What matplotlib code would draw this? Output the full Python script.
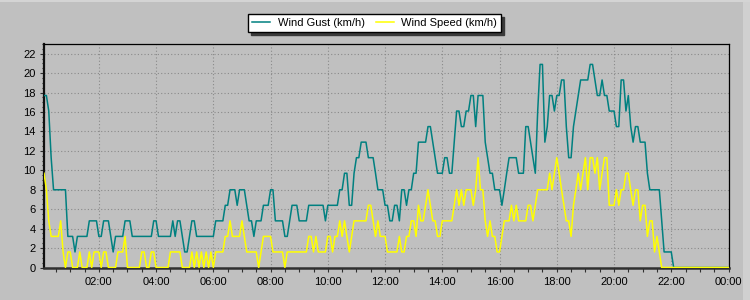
import numpy as np
import pandas as pd
import matplotlib
matplotlib.use("Agg")
import matplotlib.pyplot as plt
import matplotlib.dates as mdates
from matplotlib.patches import Rectangle

plt.rcParams['font.family'] = ['Liberation Sans', 'DejaVu Sans']

# 5-minute samples from 00:05 to 24:00
start_time = "2000-01-01 00:05"
n_samples = 288

# Wind gust (km/h)
wind_gust = [
    17.7, 17.7, 16.1, 11.3, 8.0, 8.0, 8.0, 8.0, 8.0, 8.0,
    3.2, 3.2, 3.2, 1.6, 3.2, 3.2, 3.2, 3.2, 3.2, 4.8,
    4.8, 4.8, 4.8, 3.2, 3.2, 4.8, 4.8, 4.8, 3.2, 1.6,
    3.2, 3.2, 3.2, 3.2, 4.8, 4.8, 4.8, 3.2, 3.2, 3.2,
    3.2, 3.2, 3.2, 3.2, 3.2, 3.2, 4.8, 4.8, 3.2, 3.2,
    3.2, 3.2, 3.2, 3.2, 4.8, 3.2, 4.8, 4.8, 3.2, 1.6,
    1.6, 3.2, 4.8, 4.8, 3.2, 3.2, 3.2, 3.2, 3.2, 3.2,
    3.2, 3.2, 4.8, 4.8, 4.8, 4.8, 6.4, 6.4, 8.0, 8.0,
    8.0, 6.4, 8.0, 8.0, 8.0, 6.4, 4.8, 4.8, 3.2, 4.8,
    4.8, 4.8, 6.4, 6.4, 6.4, 8.0, 8.0, 4.8, 4.8, 4.8,
    4.8, 3.2, 3.2, 4.8, 6.4, 6.4, 6.4, 4.8, 4.8, 4.8,
    4.8, 6.4, 6.4, 6.4, 6.4, 6.4, 6.4, 6.4, 4.8, 6.4,
    6.4, 6.4, 6.4, 6.4, 8.0, 8.0, 9.7, 9.7, 6.4, 6.4,
    9.7, 11.3, 11.3, 12.9, 12.9, 12.9, 11.3, 11.3, 11.3, 9.7,
    8.0, 8.0, 8.0, 6.4, 6.4, 4.8, 4.8, 6.4, 6.4, 4.8,
    8.0, 8.0, 6.4, 8.0, 8.0, 9.7, 9.7, 12.9, 12.9, 12.9,
    12.9, 14.5, 14.5, 12.9, 11.3, 9.7, 9.7, 9.7, 11.3, 11.3,
    9.7, 9.7, 12.9, 16.1, 16.1, 14.5, 14.5, 16.1, 16.1, 17.7,
    17.7, 14.5, 17.7, 17.7, 17.7, 12.9, 11.3, 9.7, 9.7, 8.0,
    8.0, 8.0, 6.4, 8.0, 9.7, 11.3, 11.3, 11.3, 11.3, 9.7,
    9.7, 9.7, 14.5, 14.5, 12.9, 11.3, 9.7, 16.1, 20.9, 20.9,
    12.9, 14.5, 17.7, 17.7, 16.1, 17.7, 17.7, 19.3, 19.3, 14.5,
    11.3, 11.3, 14.5, 16.1, 17.7, 19.3, 19.3, 19.3, 19.3, 20.9,
    20.9, 19.3, 17.7, 17.7, 19.3, 17.7, 17.7, 16.1, 16.1, 16.1,
    14.5, 14.5, 19.3, 19.3, 16.1, 17.7, 14.5, 12.9, 14.5, 14.5,
    12.9, 12.9, 12.9, 9.7, 8.0, 8.0, 8.0, 8.0, 8.0, 4.8,
    1.6, 1.6, 1.6, 1.6, 0, 0, 0, 0, 0, 0,
    0, 0, 0, 0, 0, 0, 0, 0, 0, 0,
    0, 0, 0, 0, 0, 0, 0, 0,
]

# Wind speed (km/h)
wind_speed = [
    9.7, 8.0, 4.8, 3.2, 3.2, 3.2, 3.2, 4.8, 1.6, 0,
    1.6, 1.6, 0, 0, 0, 1.6, 0, 0, 0, 1.6,
    0, 1.6, 1.6, 1.6, 0, 1.6, 1.6, 0, 0, 0,
    0, 1.6, 1.6, 1.6, 3.2, 0, 0, 0, 0, 0,
    0, 1.6, 1.6, 0, 0, 1.6, 1.6, 0, 0, 0,
    0, 0, 0, 1.6, 1.6, 1.6, 1.6, 1.6, 0, 0,
    0, 0, 1.6, 0, 1.6, 0, 1.6, 0, 1.6, 0,
    1.6, 0, 1.6, 1.6, 1.6, 1.6, 3.2, 3.2, 4.8, 3.2,
    3.2, 3.2, 3.2, 4.8, 3.2, 1.6, 1.6, 1.6, 1.6, 1.6,
    0, 1.6, 3.2, 3.2, 3.2, 3.2, 1.6, 1.6, 1.6, 1.6,
    1.6, 0, 1.6, 1.6, 1.6, 1.6, 1.6, 1.6, 1.6, 1.6,
    1.6, 3.2, 3.2, 1.6, 3.2, 1.6, 1.6, 1.6, 1.6, 3.2,
    3.2, 1.6, 3.2, 3.2, 4.8, 3.2, 4.8, 3.2, 1.6, 3.2,
    4.8, 4.8, 4.8, 4.8, 4.8, 4.8, 6.4, 6.4, 4.8, 3.2,
    4.8, 3.2, 3.2, 3.2, 1.6, 1.6, 1.6, 1.6, 1.6, 3.2,
    1.6, 1.6, 3.2, 3.2, 4.8, 4.8, 3.2, 6.4, 4.8, 4.8,
    6.4, 8.0, 6.4, 4.8, 4.8, 3.2, 3.2, 4.8, 4.8, 4.8,
    4.8, 4.8, 6.4, 8.0, 6.4, 8.0, 6.4, 8.0, 8.0, 8.0,
    6.4, 8.0, 11.3, 8.0, 8.0, 4.8, 3.2, 4.8, 3.2, 3.2,
    1.6, 1.6, 3.2, 4.8, 4.8, 4.8, 6.4, 4.8, 6.4, 4.8,
    4.8, 4.8, 4.8, 6.4, 6.4, 4.8, 6.4, 8.0, 8.0, 8.0,
    8.0, 8.0, 9.7, 8.0, 9.7, 11.3, 9.7, 8.0, 6.4, 4.8,
    4.8, 3.2, 6.4, 8.0, 9.7, 8.0, 9.7, 11.3, 8.0, 11.3,
    11.3, 9.7, 11.3, 8.0, 9.7, 11.3, 11.3, 6.4, 6.4, 6.4,
    8.0, 6.4, 8.0, 8.0, 9.7, 9.7, 8.0, 6.4, 8.0, 8.0,
    4.8, 6.4, 6.4, 3.2, 4.8, 4.8, 1.6, 3.2, 1.6, 0,
    0, 0, 0, 0, 0, 0, 0, 0, 0, 0,
    0, 0, 0, 0, 0, 0, 0, 0, 0, 0,
    0, 0, 0, 0, 0, 0, 0, 0,
]

series_labels = ["Wind Gust (km/h)", "Wind Speed (km/h)"]
y_ticks = list(range(0, 23, 2))

times = pd.date_range(start_time, periods=n_samples, freq="5min")

BG = "#C0C0C0"
fig = plt.figure(figsize=(7.5, 3.0), dpi=100, facecolor=BG)
ax = fig.add_axes([44 / 750, 1 - 267.5 / 300, (728.5 - 44) / 750, (267.5 - 44) / 300])
ax.set_facecolor(BG)

ax.plot(times, wind_gust, color="#008080", lw=1.1, label=series_labels[0], zorder=3)
ax.plot(times, wind_speed, color="#FFFF00", lw=1.1, label=series_labels[1], zorder=4)

ax.set_xlim(times[0], times[-1])
ax.set_ylim(0, 23)

ax.set_yticks(y_ticks)
ax.yaxis.set_minor_locator(matplotlib.ticker.MultipleLocator(0.5))
ax.xaxis.set_major_locator(mdates.HourLocator(byhour=range(0, 24, 2)))
ax.xaxis.set_minor_locator(mdates.MinuteLocator(byminute=[0, 30]))
ax.xaxis.set_major_formatter(mdates.DateFormatter("%H:%M"))

ax.grid(True, which="major", color="#8a8a8a", linestyle=(0, (1, 2)), linewidth=0.8, zorder=1)
ax.set_axisbelow(True)

ax.tick_params(axis="both", which="major", labelsize=8, colors="#303030",
               labelcolor="black", length=3, width=0.8, direction="out")
ax.tick_params(axis="y", which="major", pad=3)
ax.tick_params(axis="x", which="major", pad=3.5)
ax.tick_params(axis="y", which="minor", length=1.6, width=0.8, colors="#303030")
ax.tick_params(axis="x", which="minor", length=3, width=0.8, colors="#303030")

for side in ("top", "right"):
    ax.spines[side].set_linewidth(0.9)
    ax.spines[side].set_color("black")
ax.spines["left"].set_linewidth(1.6)
ax.spines["left"].set_color("#101010")
ax.spines["bottom"].set_linewidth(1.8)
ax.spines["bottom"].set_color("#303030")

leg = fig.legend(loc="center", bbox_to_anchor=(0.4995, 0.923), ncol=2,
                 fontsize=8, frameon=True, fancybox=False,
                 shadow={"color": "#3a3a3a", "alpha": 1.0},
                 borderpad=0.35, handlelength=1.6, handletextpad=0.7,
                 columnspacing=1.0, borderaxespad=0)
leg.get_frame().set_edgecolor("black")
leg.get_frame().set_linewidth(1.0)
leg.get_frame().set_facecolor("white")
leg.get_frame().set_alpha(1.0)

# light outer frame strips
fig.patches.append(Rectangle((743 / 750, 0), 7 / 750, 1, transform=fig.transFigure,
                             facecolor="#D0D0D0", edgecolor="none", zorder=0))
fig.patches.append(Rectangle((0, 1 - 1.5 / 300), 1, 1.5 / 300, transform=fig.transFigure,
                             facecolor="#D4D4D4", edgecolor="none", zorder=0))

fig.savefig("out.png", dpi=100, facecolor=BG)
